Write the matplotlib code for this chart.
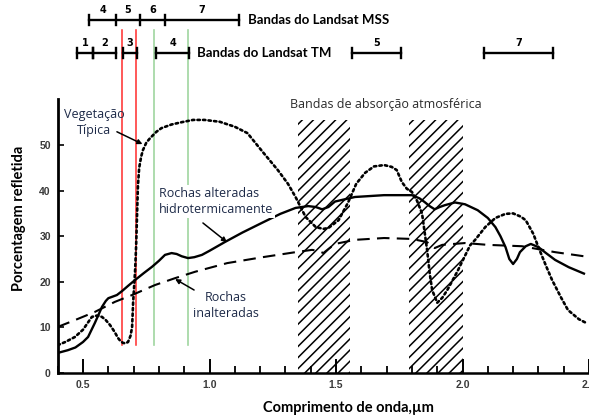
import matplotlib
matplotlib.use("Agg")
import matplotlib.pyplot as plt
from matplotlib.ticker import MultipleLocator

# ---------------- data ----------------
# Hydrothermally altered rocks (solid)
alt_x = [0.40, 0.44, 0.47, 0.50, 0.52, 0.547, 0.575, 0.59, 0.60, 0.634, 0.655, 0.68,
         0.706, 0.74, 0.773, 0.80, 0.824, 0.85, 0.87, 0.89, 0.915, 0.94, 0.97, 1.00,
         1.06, 1.13, 1.21, 1.28, 1.34, 1.39, 1.42, 1.445, 1.47, 1.496, 1.535, 1.575,
         1.69, 1.80, 1.83, 1.85, 1.87, 1.89, 1.91, 1.93, 1.97, 2.01, 2.06, 2.10, 2.13,
         2.15, 2.17, 2.185, 2.20, 2.215, 2.227, 2.25, 2.27, 2.30, 2.33, 2.366, 2.42, 2.48]
alt_y = [4.4, 5.0, 5.6, 6.8, 7.9, 11.0, 14.5, 15.8, 16.4, 17.1, 18.0, 19.2,
         20.4, 21.9, 23.3, 24.6, 25.9, 26.3, 26.1, 25.6, 25.2, 25.4, 25.9, 26.8,
         28.7, 30.8, 33.0, 34.9, 36.2, 36.6, 36.4, 35.9, 36.4, 37.6, 38.1, 38.6,
         39.0, 39.0, 38.3, 37.5, 36.6, 35.9, 36.4, 36.8, 37.4, 37.0, 35.7, 34.0, 32.0,
         30.0, 27.6, 25.0, 23.9, 25.0, 26.5, 27.8, 28.3, 27.6, 26.3, 24.8, 23.2, 21.8]

# Unaltered rocks (dashed)
unalt_x = [0.40, 0.468, 0.547, 0.626, 0.694, 0.785, 0.864, 0.943, 1.07, 1.21, 1.34,
           1.405, 1.43, 1.45, 1.47, 1.496, 1.575, 1.69, 1.80, 1.86, 1.875, 1.89, 1.92,
           2.01, 2.10, 2.235, 2.366, 2.48]
unalt_y = [10.1, 11.6, 13.4, 15.6, 17.1, 19.3, 20.8, 22.2, 24.1, 25.4, 26.5,
           27.0, 26.8, 26.3, 27.2, 28.3, 29.2, 29.6, 29.4, 28.7, 28.0, 27.4, 28.1,
           28.5, 28.1, 27.8, 26.5, 25.6]

# Typical vegetation (dotted)
veg_x = [0.40, 0.43, 0.468, 0.50, 0.535, 0.555, 0.575, 0.59, 0.607, 0.625, 0.638, 0.648,
         0.658, 0.668, 0.678, 0.688, 0.694, 0.698, 0.702, 0.706, 0.710, 0.713, 0.717,
         0.722, 0.73, 0.737, 0.75, 0.765, 0.79, 0.81, 0.85, 0.89, 0.935, 0.98, 1.04,
         1.10, 1.15, 1.21, 1.27, 1.31, 1.34, 1.38, 1.42, 1.45, 1.47, 1.51, 1.547, 1.58,
         1.615, 1.65, 1.69, 1.72, 1.74, 1.76, 1.78, 1.80, 1.82, 1.84, 1.85, 1.86, 1.87,
         1.88, 1.90, 1.92, 1.94, 1.98, 2.03, 2.05, 2.09, 2.13, 2.17, 2.20, 2.23, 2.25,
         2.28, 2.30, 2.33, 2.354, 2.39, 2.417, 2.46, 2.495]
veg_y = [6.1, 6.8, 7.9, 9.5, 12.3, 12.6, 12.3, 11.6, 10.5, 9.0, 7.7, 7.0,
         6.6, 6.5, 6.8, 8.2, 10.1, 15.4, 19.0, 22.6, 28.0, 33.6, 41.0,
         45.0, 47.5, 48.9, 50.5, 51.5, 52.9, 53.7, 54.5, 55.0, 55.5, 55.5, 55.1,
         54.0, 52.6, 48.5, 44.5, 41.5, 38.6, 34.2, 32.0, 31.6, 31.8, 33.5, 37.3, 41.5,
         43.9, 45.3, 45.6, 45.2, 44.5, 41.9, 40.4, 39.7, 37.8, 35.0, 31.0, 27.0, 22.0,
         18.2, 15.4, 16.5, 18.2, 22.3, 28.0, 29.2, 32.0, 34.0, 34.9, 35.0, 34.3, 33.5,
         30.5, 27.6, 23.5, 20.4, 16.5, 13.8, 11.8, 10.8]

# Atmospheric absorption bands (µm)
absorption_bands = [(1.35, 1.555), (1.79, 2.00)]
absorption_top = 55.5

# Landsat MSS band edges and labels
mss_edges = [0.524, 0.63, 0.725, 0.824, 1.117]
mss_labels = ["4", "5", "6", "7"]

# Landsat TM bands (start, end) and labels
tm_starts = [0.476, 0.54, 0.658, 0.789, 1.563, 2.085]
tm_ends = [0.54, 0.63, 0.713, 0.919, 1.757, 2.358]
tm_labels = ["1", "2", "3", "4", "5", "7"]

# TM3 (red) and TM4 (near infrared) limits
red_lines = [0.654, 0.709]
green_lines = [0.78, 0.915]

y_ticks = [0, 10, 20, 30, 40, 50]
x_ticks = [0.5, 1.0, 1.5, 2.0, 2.5]
x_tick_labels = ["0.5", "1.0", "1.5", "2.0", "2.5"]

# ---------------- figure ----------------
plt.rcParams["hatch.linewidth"] = 1.1
fig = plt.figure(figsize=(5.89, 4.19), dpi=100)
ax = fig.add_axes([0.098, 0.1098, 0.902, 0.8902])
ax.set_xlim(0.40, 2.50)
ax.set_ylim(0, 81.8)

# hatched absorption bands
for x0, x1 in absorption_bands:
    ax.fill_between([x0, x1], 0, absorption_top, facecolor="none",
                    edgecolor="black", hatch="///", linewidth=0, zorder=1)

# band limit lines
for xv in red_lines:
    ax.plot([xv, xv], [6.1, 75.2], color="#ff2b2b", lw=1.1, zorder=2, clip_on=False)
for xv in green_lines:
    ax.plot([xv, xv], [6.1, 75.2], color="#9fd69f", lw=1.2, zorder=2, clip_on=False)

# spectral curves
ax.plot(veg_x, veg_y, color="black", lw=1.9, linestyle=(0, (0.9, 1.2)),
        dash_capstyle="round", zorder=4)
ax.plot(unalt_x, unalt_y, color="black", lw=1.5, linestyle=(0, (6, 3.5)), zorder=4)
ax.plot(alt_x, alt_y, color="black", lw=1.7, zorder=5)

# sensor band bars
bar_kw = dict(color="black", lw=1.7, clip_on=False, zorder=6)
mss_y = 77.4
ax.plot([mss_edges[0], mss_edges[-1]], [mss_y, mss_y], **bar_kw)
for e in mss_edges:
    ax.plot([e, e], [mss_y - 1.1, mss_y + 1.1], **bar_kw)
for i, lab in enumerate(mss_labels):
    ax.text((mss_edges[i] + mss_edges[i + 1]) / 2, mss_y + 1.1, lab, ha="center",
            va="bottom", fontsize=7, fontweight="bold", family="DejaVu Sans")
ax.text(1.152, mss_y, "Bandas do Landsat MSS", ha="left", va="center",
        fontsize=9.5, fontweight="bold", family="Lato")

tm_y = 70.2
for s, e, lab in zip(tm_starts, tm_ends, tm_labels):
    ax.plot([s, e], [tm_y, tm_y], **bar_kw)
    for v in (s, e):
        ax.plot([v, v], [tm_y - 1.1, tm_y + 1.1], **bar_kw)
    ax.text((s + e) / 2, tm_y + 1.1, lab, ha="center", va="bottom",
            fontsize=7, fontweight="bold", family="DejaVu Sans")
ax.text(0.95, tm_y, "Bandas do Landsat TM", ha="left", va="center",
        fontsize=9.5, fontweight="bold", family="Lato")

# annotations
note_color = "#1d2a48"
note_kw = dict(fontsize=9, family="Open Sans", color=note_color, zorder=7)
arrow_kw = dict(arrowstyle="-|>", color="black", lw=1.1, mutation_scale=7,
                shrinkA=0, shrinkB=0)

ax.text(0.543, 54.9, "Vegetação\nTípica", ha="center", va="center",
        multialignment="center", linespacing=1.25, **note_kw)
ax.annotate("", xy=(0.735, 50.2), xytext=(0.634, 52.9), arrowprops=arrow_kw, zorder=7)

ax.text(0.80, 37.6, "Rochas alteradas\nhidrotermicamente", ha="left", va="center",
        linespacing=1.25, bbox=dict(facecolor="white", edgecolor="none", pad=1.5),
        **note_kw)
ax.annotate("", xy=(1.069, 28.7), xytext=(0.974, 32.9), arrowprops=arrow_kw, zorder=7)

ax.text(1.065, 14.8, "Rochas\ninalteradas", ha="center", va="center",
        multialignment="center", linespacing=1.25, **note_kw)
ax.annotate("", xy=(0.864, 20.6), xytext=(0.939, 18.2), arrowprops=arrow_kw, zorder=7)

ax.text(1.318, 58.8, "Bandas de absorção atmosférica", ha="left", va="center",
        fontsize=9, family="Open Sans", color="#2b2b2b", zorder=7)

# axes styling
for side in ("top", "right"):
    ax.spines[side].set_visible(False)
ax.spines["left"].set_bounds(0, 60)
ax.spines["left"].set_linewidth(2.0)
ax.spines["bottom"].set_linewidth(1.8)

ax.set_yticks(y_ticks)
ax.set_yticklabels([str(t) for t in y_ticks])
ax.set_xticks(x_ticks)
ax.set_xticklabels(x_tick_labels)
ax.xaxis.set_minor_locator(MultipleLocator(0.1))
ax.tick_params(axis="y", direction="in", length=4, width=1.2, pad=5,
               labelsize=7.5, labelcolor="#3a3a3a")
ax.tick_params(axis="x", which="major", direction="in", length=10, width=1.4,
               pad=5, labelsize=7.5, labelcolor="#3a3a3a")
ax.tick_params(axis="x", which="minor", direction="in", length=5, width=1.3)
for lab in ax.get_xticklabels() + ax.get_yticklabels():
    lab.set_fontweight("bold")
    lab.set_family("Liberation Sans")

fig.text(0.591, 0.026, "Comprimento de onda,µm", ha="center", va="center",
         fontsize=10.5, fontweight="bold", family="Lato")
fig.text(0.033, 0.48, "Porcentagem refletida", ha="center", va="center",
         rotation=90, fontsize=10.5, fontweight="bold", family="Lato")

fig.savefig("out.png", dpi=100)
